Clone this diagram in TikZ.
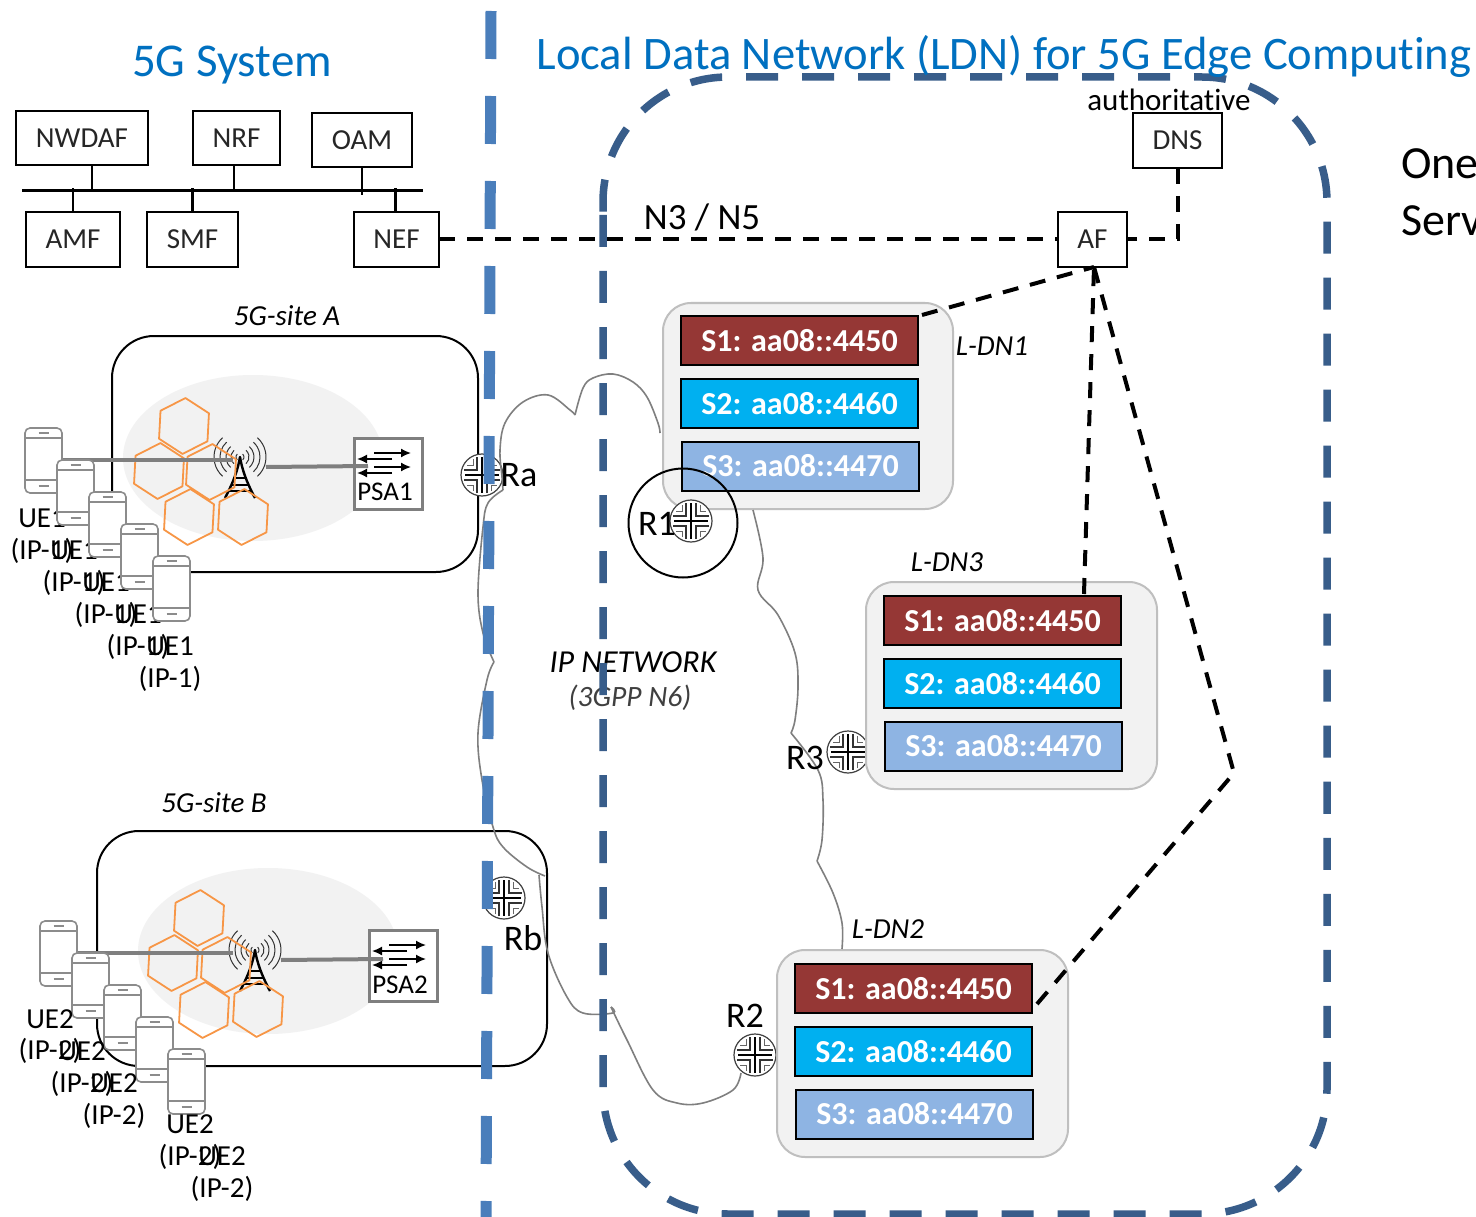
\documentclass[tikz,border=0pt]{standalone}
\usepackage{fontspec}
\setmainfont[Ligatures=NoCommon]{Carlito}
\usetikzlibrary{arrows.meta,calc}
\newcommand{\fsz}[1]{\fontsize{#1}{#1}\selectfont}
\definecolor{titleblue}{HTML}{0070C0}
\definecolor{sepblue}{HTML}{4A7EBB}
\definecolor{ldnblue}{HTML}{385D8A}
\definecolor{hexorange}{HTML}{F79646}
\definecolor{panelgray}{HTML}{F2F2F2}
\definecolor{panelline}{HTML}{BFBFBF}
\definecolor{wirecol}{HTML}{7F7F7F}
\definecolor{phonecol}{HTML}{8C8C8C}
\definecolor{sred}{HTML}{953735}
\definecolor{scyan}{HTML}{00B0F0}
\definecolor{slight}{HTML}{8EB4E3}
\tikzset{
  lbl/.style={inner sep=0pt,outer sep=0pt,text=black},
  nf/.style={draw=black,line width=2pt,fill=white,inner sep=0pt,outer sep=0pt,font=\fsz{29},text=black!85},
  bus/.style={draw=black,line width=2.4pt},
  blkdash/.style={draw=black,line width=4pt,dash pattern=on 16pt off 12pt},
  site/.style={draw=black,line width=2pt,rounded corners=42pt},
  panel/.style={draw=panelline,line width=2pt,fill=panelgray,rounded corners=28pt},
  svc/.style={draw=black,line width=2pt,inner sep=0pt,outer sep=0pt,minimum width=237pt,minimum height=49pt,text=white,font=\fsz{32}\bfseries},
  hexa/.style={draw=hexorange,line width=1.8pt,line join=round},
  wire/.style={draw=wirecol,line width=4pt},
  cloudln/.style={draw=wirecol,line width=1.6pt},
  phonebody/.style={draw=phonecol,line width=1.6pt,fill=white,rounded corners=5pt,minimum width=37pt,minimum height=65pt,inner sep=0pt,outer sep=0pt},
  phoneln/.style={draw=phonecol,line width=1.4pt},
  routerbody/.style={circle,draw=black!75,line width=1.2pt,fill=white,minimum size=42pt,inner sep=0pt,outer sep=0pt},
}
\newcommand{\hexcell}[2]{\draw[hexa,shift={(#1,#2)}] (87:28pt) -- (27:28pt) -- (-33:28pt) -- (-93:28pt) -- (-153:28pt) -- (147:28pt) -- cycle;}
\newcommand{\phone}[3]{%
  \node[phonebody] (#1) at (#2+18.5,#3+32.5) {};
  \draw[phoneln] (#2,#3+10) -- (#2+37,#3+10);
  \draw[phoneln] (#2,#3+52) -- (#2+37,#3+52);
  \draw[phoneln] (#2+13.5,#3+5) -- (#2+23.5,#3+5);
  \draw[phoneln] (#2+13.5,#3+58) -- (#2+23.5,#3+58);
}
\newcommand{\tower}[2]{%
  \begin{scope}[shift={(#1,#2)}]
    \foreach \r in {4,9,14,20,26}{
      \draw[black!80,line width=1pt] (-48:\r pt) arc[start angle=-48,end angle=48,radius=\r pt];
      \draw[black!80,line width=1pt] (132:\r pt) arc[start angle=132,end angle=228,radius=\r pt];
    }
    \draw[black,line width=2.4pt,line join=round] (-15,41) .. controls (-6,24) and (-2,12) .. (0,0) .. controls (2,12) and (6,24) .. (15,41);
    \draw[black,line width=1.6pt] (-6,21) -- (6,21) (-8,28) -- (8,28) (-11,34) -- (11,34);
  \end{scope}
}
\newcommand{\psaicon}[3]{%
  \node[draw=wirecol,line width=3pt,fill=white,inner sep=0pt,outer sep=0pt,minimum width=68pt,minimum height=71pt] (#1) at (#2+34,#3+35.5) {};
  \begin{scope}[shift={(#2,#3)}]
    \draw[black,line width=1.6pt,-{Latex[length=10pt,width=9pt]}] (20,15) -- (57,15);
    \draw[black,line width=1.6pt,-{Latex[length=10pt,width=9pt]}] (38,21) -- (3,21);
    \draw[black,line width=1.6pt,-{Latex[length=10pt,width=9pt]}] (20,29) -- (57,29);
    \draw[black,line width=1.6pt,-{Latex[length=10pt,width=9pt]}] (38,35) -- (3,35);
  \end{scope}
}
\newcommand{\router}[3]{%
  \node[routerbody] (#1) at (#2,#3) {};
  \begin{scope}[shift={(#2,#3)}]
    \draw[black,line width=2pt] (-17,0) -- (17,0) (0,-18) -- (0,18);
    \foreach \sx/\sy in {1/1,1/-1,-1/1,-1/-1}{
      \draw[black!80,line width=1.3pt] (\sx*5,\sy*18) -- (\sx*5,\sy*5) -- (\sx*18,\sy*5);
      \draw[black!60,line width=.8pt] (\sx*9,\sy*16) -- (\sx*9,\sy*10) -- (\sx*15,\sy*10);
    }
  \end{scope}
}
\newcommand{\servicegroup}[3]{%
  \node[svc,fill=sred] (#1a) at (#2+118.5,#3+24.5) {S1: aa08::4450};
  \node[svc,fill=scyan] (#1b) at (#2+118.5,#3+87.5) {S2: aa08::4460};
  \node[svc,fill=slight] (#1c) at (#2+119.5,#3+150) {S3: aa08::4470};
}
\begin{document}
\begin{tikzpicture}[x=1pt,y=-1pt]
\useasboundingbox (0,0) rectangle (1476,1217);
\fill[white] (0,0) rectangle (1476,1217);

% sites
\draw[site] (112,336) rectangle (478,572);
\draw[site] (97,831) rectangle (547,1066);
\fill[panelgray] (253,458) ellipse[x radius=130pt,y radius=83pt];
\fill[panelgray] (268,951) ellipse[x radius=130pt,y radius=83pt];

% towers and cells, site A
\tower{240}{457}
\foreach \cx/\cy in {184/426,159/471,211/472,189/517,243/517}{\hexcell{\cx}{\cy}}
% site B
\tower{255}{950}
\foreach \cx/\cy in {199/918,173/963,226/965,204/1010,258/1009}{\hexcell{\cx}{\cy}}

% PSA
\psaicon{psa1}{354}{438}
\psaicon{psa2}{369}{930}
\node[lbl,font=\fsz{27}] at (385,492) {PSA1};
\node[lbl,font=\fsz{27}] at (400,985) {PSA2};
\coordinate (tw1l) at (233,460);
\coordinate (tw1r) at (266,467);
\coordinate (tw2l) at (233,953);
\coordinate (tw2r) at (281,960);
\coordinate (ph1) at (62,460);
\coordinate (ph2) at (75,953);
\draw[wire] (ph1) -- (tw1l);
\draw[wire] (tw1r) -- (368,466);
\draw[wire] (ph2) -- (tw2l);
\draw[wire] (tw2r) -- (383,959);

% phones and labels A
\phone{a1}{25}{428}
\node[lbl,font=\fsz{29}] at (42,518) {UE1};
\node[lbl,font=\fsz{29}] at (42,551) {(IP-1)};
\phone{a2}{57}{460}
\node[lbl,font=\fsz{29}] at (74,550) {UE1};
\node[lbl,font=\fsz{29}] at (74,583) {(IP-1)};
\phone{a3}{89}{492}
\node[lbl,font=\fsz{29}] at (106,582) {UE1};
\node[lbl,font=\fsz{29}] at (106,615) {(IP-1)};
\phone{a4}{121}{524}
\node[lbl,font=\fsz{29}] at (138,614) {UE1};
\node[lbl,font=\fsz{29}] at (138,647) {(IP-1)};
\phone{a5}{153}{556}
\node[lbl,font=\fsz{29}] at (170,646) {UE1};
\node[lbl,font=\fsz{29}] at (170,679) {(IP-1)};

% phones and labels B
\phone{b1}{40}{921}
\phone{b2}{72}{953}
\phone{b3}{104}{985}
\phone{b4}{136}{1017}
\phone{b5}{168}{1049}
\node[lbl,font=\fsz{29}] at (50,1019) {UE2};
\node[lbl,font=\fsz{29}] at (50,1051) {(IP-2)};
\node[lbl,font=\fsz{29}] at (82,1051) {UE2};
\node[lbl,font=\fsz{29}] at (82,1084) {(IP-2)};
\node[lbl,font=\fsz{29}] at (114,1083) {UE2};
\node[lbl,font=\fsz{29}] at (114,1116) {(IP-2)};
\node[lbl,font=\fsz{29}] at (190,1124) {UE2};
\node[lbl,font=\fsz{29}] at (190,1157) {(IP-2)};
\node[lbl,font=\fsz{29}] at (222,1156) {UE2};
\node[lbl,font=\fsz{29}] at (222,1189) {(IP-2)};

% 5G core
\coordinate (busL) at (22,190.5);
\coordinate (busR) at (423,190.5);
\draw[bus] (busL) -- (busR);
\node[nf,minimum width=132pt,minimum height=54pt] (nwdaf) at (82,138) {\raisebox{-1.5pt}{NWDAF}};
\node[nf,minimum width=87pt,minimum height=54pt] (nrf) at (236.5,138) {\raisebox{-1.5pt}{NRF}};
\node[nf,minimum width=100pt,minimum height=54pt] (oam) at (362,140) {\raisebox{-1.5pt}{OAM}};
\node[nf,minimum width=94pt,minimum height=55pt] (amf) at (73,239.5) {AMF};
\node[nf,minimum width=91pt,minimum height=55pt] (smf) at (192.5,239.5) {SMF};
\node[nf,minimum width=85pt,minimum height=55pt] (nef) at (396.5,239.5) {NEF};
\draw[bus] ([xshift=10pt]nwdaf.south) -- ([xshift=10pt]nwdaf.south |- busL);
\draw[bus] ([xshift=-2.5pt]nrf.south) -- ([xshift=-2.5pt]nrf.south |- busL);
\draw[bus] (oam.south) -- ([yshift=-5pt]oam.south |- busL);
\draw[bus] (amf.north) -- ([yshift=2pt]amf.north |- busL);
\draw[bus] (smf.north) -- ([yshift=2pt]smf.north |- busL);
\draw[bus] ([xshift=-1pt]nef.north) -- ([xshift=-1pt,yshift=2pt]nef.north |- busL);

% AF / DNS
\node[nf,minimum width=89pt,minimum height=55pt] (dns) at (1177.5,140.5) {DNS};
\node[nf,minimum width=69pt,minimum height=55pt] (af) at (1092.5,239.5) {AF};
\coordinate (afb) at (1094,267);
\coordinate (ld1c) at (922,315);
\coordinate (ld3c) at (1084,594);
\coordinate (ld2c) at (1037,1004);
\coordinate (jog) at (1234,773);
\draw[blkdash] (nef.east) -- (af.west);
\draw[blkdash] (dns.south) |- (af.east);

% routers behind panels
\router{r3}{848}{752}
\router{r2}{755}{1055}

% panels
\draw[panel] (663,303) rectangle (953,509);
\draw[panel] (866,582) rectangle (1157,789);
\draw[panel] (777,950) rectangle (1068,1157);
\servicegroup{da}{681}{316}
\servicegroup{dc}{884}{596}
\servicegroup{db}{795}{964}

\draw[blkdash] (ld1c) -- (afb);
\draw[blkdash] (ld3c) -- (afb);
\draw[blkdash,line join=miter] (ld2c) -- (jog) -- (afb);

\router{ra}{482}{475}
\router{rb}{504}{898}
\router{r1}{691}{521}
\node[draw=black,line width=2pt,circle,minimum size=109pt,inner sep=0pt] (r1ring) at (683,523) {};

% cloud lines
\draw[cloudln] plot[smooth,tension=.6] coordinates {(660,433) (658,423) (647,397) (633,382) (613,374) (593,378) (583,388) (575,415)};
\draw[cloudln] plot[smooth,tension=.6] coordinates {(575,415) (570,410) (548,395) (523,402) (505,423) (500,450) (502,477) (503,490)};
\draw[cloudln] plot[smooth,tension=.6] coordinates {(503,490) (488,503) (483,527) (478,593) (483,633) (494,662)};
\draw[cloudln] plot[smooth,tension=.6] coordinates {(494,662) (487,680) (478,733) (482,780) (493,827) (503,847) (527,867) (545,876)};
\draw[cloudln] plot[smooth,tension=.6] coordinates {(539,875) (542,907) (548,953) (567,997) (583,1013) (613,1013) (611,1007)};
\draw[cloudln] plot[smooth,tension=.6] coordinates {(611,1007) (627,1040) (653,1090) (677,1103) (703,1103) (733,1090) (741,1073)};
\draw[cloudln] plot[smooth,tension=.6] coordinates {(753,510) (763,558) (758,590) (778,615) (795,653) (798,687) (795,720) (791,733)};
\draw[cloudln] plot[smooth,tension=.6] coordinates {(791,733) (818,770) (823,800) (822,840) (817,861)};
\draw[cloudln] plot[smooth,tension=.6] coordinates {(817,861) (833,893) (842,923) (842,949)};

% network labels
\node[lbl,font=\fsz{32}\itshape] at (633,662) {IP NETWORK};
\node[lbl,font=\fsz{29.5}\itshape,text=black!75] at (630,698) {(3GPP N6)};
\node[lbl,font=\fsz{37}] at (702,217) {N3 / N5};
\node[lbl,font=\fsz{31}] at (1169,100) {authoritative};
\node[lbl,font=\fsz{29}\itshape] at (992,346) {L-DN1};
\node[lbl,font=\fsz{29}\itshape] at (947,562) {L-DN3};
\node[lbl,font=\fsz{29}\itshape] at (888,929) {L-DN2};
\node[lbl,font=\fsz{29}\itshape] at (287,316) {5G-site A};
\node[lbl,font=\fsz{29}\itshape] at (214,803) {5G-site B};
\node[lbl,font=\fsz{36}] at (657,524) {R1};
\node[lbl,font=\fsz{36}] at (519,475) {Ra};
\node[lbl,font=\fsz{36}] at (523,938) {Rb};
\node[lbl,font=\fsz{36}] at (805,758) {R3};
\node[lbl,font=\fsz{36}] at (745,1016) {R2};

% dashed boundaries
\draw[ldnblue,line width=7.5pt,dash pattern=on 32pt off 24pt,rounded corners=125pt]
  (603,215) -- (603,1214) -- (1327,1214) -- (1327,77) -- (603,77) -- (603,215);
\draw[sepblue,line width=11pt,dash pattern=on 48pt off 37pt] (491,11) -- (486,1217);

% titles
\node[lbl,font=\fsz{47},text=titleblue] at (232,65) {5G System};
\node[lbl,font=\fsz{46.6},text=titleblue] at (1004,56) {Local Data Network (LDN) for 5G Edge Computing};
\node[lbl,font=\fsz{46},anchor=west] at (1401,164) {One};
\node[lbl,font=\fsz{46},anchor=west] at (1401,221) {Serv};
\end{tikzpicture}
\end{document}
